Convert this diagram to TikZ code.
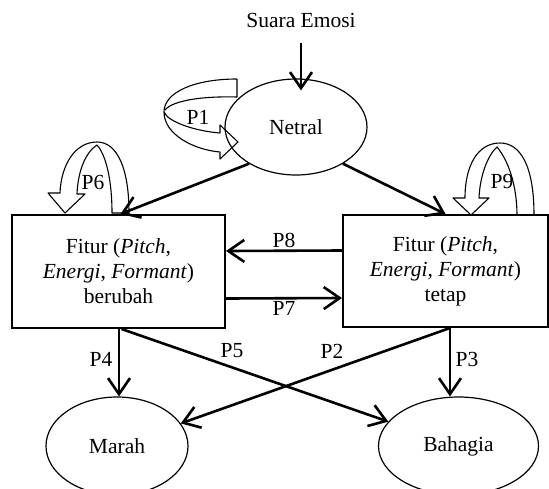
\documentclass[tikz,border=0pt]{standalone}
\usepackage{fontspec}
\setmainfont{Liberation Serif}
\usetikzlibrary{shapes.geometric,arrows.meta}
\begin{document}
\begin{tikzpicture}[x=1pt,y=-1pt,
  every node/.style={font=\fontsize{21.5}{25}\selectfont},
  ell/.style={draw,ellipse,line width=1.2pt,inner sep=0pt},
  boxnode/.style={draw,rectangle,line width=2pt,align=center,inner sep=0pt},
  arr/.style={line width=2.6pt,-{Straight Barb[length=16pt,width=22pt]}},
  loopshape/.style={line width=1.1pt,line join=round},
  lbl/.style={inner sep=1pt}]
\useasboundingbox (0,0) rectangle (549,488);
% nodes
\node (suara) at (301,20) {Suara Emosi};
\node[ell,minimum width=142pt,minimum height=96pt] (netral) at (296,127) {Netral};
\node[boxnode,minimum width=213pt,minimum height=113pt] (lbox) at (118.5,271.5)
  {Fitur (\textit{Pitch},\\\textit{Energi}, \textit{Formant})\\berubah};
\node[boxnode,minimum width=205pt,minimum height=112pt] (rbox) at (445.5,271)
  {Fitur (\textit{Pitch},\\\textit{Energi}, \textit{Formant})\\tetap};
\node[ell,minimum width=142pt,minimum height=98pt] (marah) at (117,446) {Marah};
\node[ell,minimum width=160pt,minimum height=98pt] (bahagia) at (458.5,446) {Bahagia};
% connectors
\draw[arr] ([yshift=-12pt]suara.south) -- ([yshift=-12pt]suara.south |- netral.north);
\draw[arr] (netral.218) -- ([xshift=2pt]lbox.north);
\draw[arr] (netral.322.5) -- (rbox.north);
\draw[arr] ([yshift=20.5pt]rbox.west) -- ([yshift=20.5pt]lbox.east)
  node[lbl,midway,above=1pt] (p8) {P8};
\draw[arr] ([yshift=-27pt]lbox.east) -- ([yshift=-27pt]rbox.west)
  node[lbl,midway,below=1pt] (p7) {P7};
\draw[arr] ([xshift=0.5pt]lbox.south) -- ([xshift=0.5pt]lbox.south |- marah.north);
\draw[arr] ([xshift=4.5pt]rbox.south) -- ([xshift=4.5pt]rbox.south |- bahagia.north);
\draw[arr] ([xshift=3pt]lbox.south) -- (bahagia);
\draw[arr] ([xshift=4.5pt]rbox.south) -- (marah);
\node[lbl] (p4) at (101,359) {P4};
\node[lbl] (p5) at (232,351) {P5};
\node[lbl] (p2) at (332,351) {P2};
\node[lbl] (p3) at (467,359) {P3};
% P1 loop
\draw[loopshape] (237,79) .. controls (195,79) and (164,92) .. (164,112)
  .. controls (164,135) and (195,150) .. (220,152) -- (220,159) -- (238,142)
  -- (220,125) -- (220,133) .. controls (195,131) and (168,122) .. (164,112);
\draw[loopshape] (237,79) -- (237,97) .. controls (200,96) and (172,101) .. (165,110);
\node[lbl] (p1) at (198,117) {P1};
% P6 loop
\draw[loopshape] (129,213) .. controls (129,170) and (118,142) .. (97,142)
  .. controls (75,142) and (61,165) .. (60,193) -- (48,193) -- (65,213) -- (85,194)
  -- (77,194) .. controls (78,170) and (86,152) .. (97,145)
  .. controls (106,155) and (112,180) .. (112,213) -- cycle;
\node[lbl] (p6) at (93,182) {P6};
% P9 loop
\draw[loopshape] (534,215) .. controls (534,165) and (520,143) .. (500,143)
  .. controls (478,143) and (465,165) .. (465,198) -- (453,198) -- (471,215)
  -- (489,198) -- (479,198) .. controls (480,175) and (488,155) .. (497,147)
  .. controls (508,160) and (517,185) .. (517,215) -- cycle;
\node[lbl] (p9) at (502,181) {P9};
\end{tikzpicture}
\end{document}
